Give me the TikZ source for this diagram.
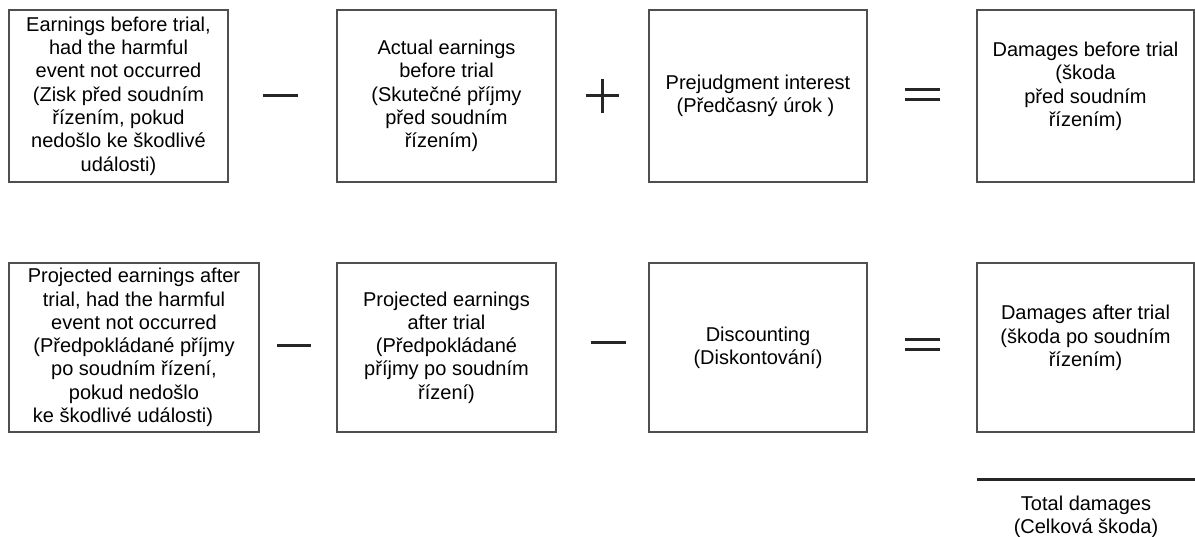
\documentclass[tikz,border=0pt]{standalone}
\usepackage{fontspec}
\setmainfont{Liberation Sans}
\definecolor{boxgray}{HTML}{4F4F4F}
\definecolor{opgray}{HTML}{262626}
\begin{document}
\begin{tikzpicture}[x=1pt,y=-1pt,
  txt/.style={font=\fontsize{20}{23.3}\selectfont, align=center, inner sep=0pt, text=black},
  box/.style={txt, draw=boxgray, line width=1.2pt},
  topbox/.style={box, minimum height=172pt},
  botbox/.style={box, minimum height=169pt},
  oper/.style={draw=opgray, line width=3pt}]
\useasboundingbox (0,0) rectangle (1195,537);
\fill[white] (0,0) rectangle (1195,537);

% top row
\node[topbox, minimum width=219pt] (b1) at (118.5,96)
  {Earnings before trial,\\had the harmful\\event not occurred\\(Zisk před soudním\\řízením, pokud\\nedošlo ke škodlivé\\události)};
\node[topbox, minimum width=219pt] (b2) at (446.5,96)
  {Actual earnings\\before trial\\(Skutečné příjmy\hspace*{25pt}\\před soudním\\řízením)\hspace*{10pt}};
\node[topbox, minimum width=218pt] (b3) at (758,96)
  {Prejudgment interest\\(Předčasný úrok )\hspace*{5pt}};
\node[topbox, minimum width=217pt] (b4) at (1085.5,96)
  {Damages before trial\\(škoda\hspace*{5.5pt}\\před soudním\\řízením)\\\mbox{}};

% bottom row
\node[botbox, minimum width=250pt] (b5) at (134,347.5)
  {Projected earnings after\\trial, had the harmful\\event not occurred\\(Předpokládané příjmy\\po soudním řízení,\\pokud nedošlo\\ke škodlivé události)\hspace*{22pt}};
\node[botbox, minimum width=219pt] (b6) at (446.5,347.5)
  {Projected earnings\\after trial\\(Předpokládané\\příjmy po soudním\\řízení)};
\node[botbox, minimum width=218pt] (b7) at (758,347.5)
  {Discounting\\(Diskontování)};
\node[botbox, minimum width=217pt] (b8) at (1085.5,347.5)
  {Damages after trial\\(škoda po soudním\\řízením)\\\mbox{}};

% operators, top row
\draw[oper] (263,96) -- (298,96);
\draw[oper] (586,96) -- (619,96);
\draw[oper] (602.5,79) -- (602.5,113);
\draw[oper] (905,90) -- (940,90);
\draw[oper] (905,99.5) -- (940,99.5);

% operators, bottom row
\draw[oper] (277,346) -- (311,346);
\draw[oper] (591,343) -- (626,343);
\draw[oper] (905,340) -- (940,340);
\draw[oper] (905,349.5) -- (940,349.5);

% total line
\coordinate (tl) at (977,479);
\coordinate (tr) at (1195,479);
\draw[oper] (tl) -- (tr);
\node[txt] (total) at (1086,516.5) {Total damages\\(Celková škoda)};
\end{tikzpicture}
\end{document}
